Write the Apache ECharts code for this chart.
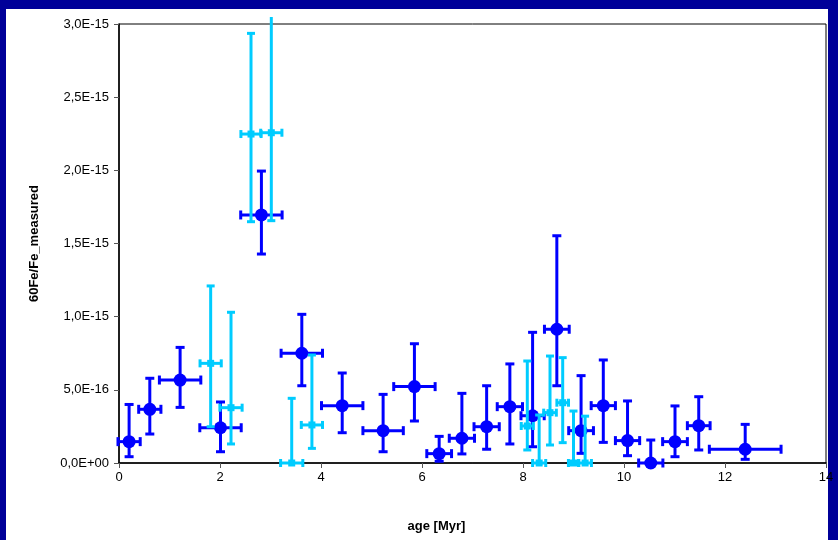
<!DOCTYPE html>
<html><head><meta charset="utf-8">
<script src="https://cdn.jsdelivr.net/npm/echarts@6/dist/echarts.min.js"></script>
<style>html,body{margin:0;padding:0;background:#000099;}#c{width:838px;height:540px;}</style>
</head><body><div id="c"></div>
<script>
// values in units of 1e-15
const UNIT = 1e-15;
const yTickLabels = ['0,0E+00','5,0E-16','1,0E-15','1,5E-15','2,0E-15','2,5E-15','3,0E-15'];
const xTickLabels = ['0','2','4','6','8','10','12','14'];

const blueAge    = [0.20, 0.61, 1.21, 2.01, 2.82, 3.62, 4.42, 5.23, 5.85, 6.34, 6.79, 7.28, 7.74, 8.19, 8.67, 9.15, 9.59, 10.07, 10.53, 11.01, 11.48, 12.40];
const blueAgeErr = [0.22, 0.22, 0.41, 0.41, 0.41, 0.41, 0.41, 0.40, 0.41, 0.245, 0.25, 0.25, 0.25, 0.23, 0.245, 0.245, 0.24, 0.24, 0.24, 0.245, 0.225, 0.71];
const blueVal    = [0.146, 0.367, 0.567, 0.241, 1.695, 0.750, 0.392, 0.221, 0.522, 0.064, 0.169, 0.248, 0.385, 0.323, 0.914, 0.221, 0.392, 0.153, 0.000, 0.146, 0.255, 0.094];
const blueHigh   = [0.400, 0.579, 0.790, 0.417, 1.995, 1.016, 0.615, 0.469, 0.815, 0.182, 0.476, 0.528, 0.677, 0.893, 1.553, 0.597, 0.704, 0.424, 0.157, 0.390, 0.453, 0.264];
const blueLow    = [0.043, 0.198, 0.380, 0.077, 1.428, 0.528, 0.207, 0.077, 0.287, 0.012, 0.062, 0.094, 0.130, 0.111, 0.528, 0.066, 0.141, 0.050, 0.000, 0.043, 0.089, 0.025];

const cyanAge    = [1.815, 2.218, 2.614, 3.016, 3.42, 3.82, 8.085, 8.32, 8.535, 8.786, 9.00, 9.23];
const cyanAgeErr = [0.21, 0.22, 0.20, 0.21, 0.22, 0.21, 0.12, 0.13, 0.125, 0.115, 0.10, 0.125];
const cyanVal    = [0.681, 0.378, 2.248, 2.257, 0.000, 0.260, 0.253, 0.000, 0.344, 0.412, 0.000, 0.000];
const cyanHigh   = [1.210, 1.030, 2.936, 3.300, 0.442, 0.738, 0.697, 0.328, 0.731, 0.720, 0.355, 0.320];
const cyanLow    = [0.248, 0.130, 1.649, 1.656, 0.000, 0.100, 0.089, 0.000, 0.123, 0.139, 0.000, 0.000];

function rows(age, ageErr, val, low, high) {
  return age.map((a, i) => [a, val[i], a - ageErr[i], a + ageErr[i], low[i], high[i]]);
}
const blueRows = rows(blueAge, blueAgeErr, blueVal, blueLow, blueHigh);
const cyanRows = rows(cyanAge, cyanAgeErr, cyanVal, cyanLow, cyanHigh);

function errRender(color, cap) {
  return function (params, api) {
    const c = api.coord([api.value(0), api.value(1)]);
    const xl = api.coord([api.value(2), api.value(1)])[0];
    const xr = api.coord([api.value(3), api.value(1)])[0];
    const yl = api.coord([api.value(0), api.value(4)])[1];
    let yh = api.coord([api.value(0), api.value(5)])[1];
    const top = params.coordSys.y - 7;
    let topCap = true;
    if (yh < top) { yh = top; topCap = false; }
    const st = { stroke: color, lineWidth: 3 };
    const ch = [];
    ch.push({ type: 'line', shape: { x1: xl, y1: c[1], x2: xr, y2: c[1] }, style: st });
    ch.push({ type: 'line', shape: { x1: xl, y1: c[1] - cap, x2: xl, y2: c[1] + cap }, style: st });
    ch.push({ type: 'line', shape: { x1: xr, y1: c[1] - cap, x2: xr, y2: c[1] + cap }, style: st });
    if (Math.abs(yh - c[1]) > 0.5) {
      ch.push({ type: 'line', shape: { x1: c[0], y1: c[1], x2: c[0], y2: yh }, style: st });
      if (topCap) ch.push({ type: 'line', shape: { x1: c[0] - cap, y1: yh, x2: c[0] + cap, y2: yh }, style: st });
    }
    if (Math.abs(yl - c[1]) > 0.5) {
      ch.push({ type: 'line', shape: { x1: c[0], y1: c[1], x2: c[0], y2: yl }, style: st });
      ch.push({ type: 'line', shape: { x1: c[0] - cap, y1: yl, x2: c[0] + cap, y2: yl }, style: st });
    }
    return { type: 'group', children: ch };
  };
}

const chart = echarts.init(document.getElementById('c'), null, { renderer: 'canvas' });
chart.setOption({
  backgroundColor: '#000099',
  animation: false,
  graphic: [{ type: 'rect', z: -10, shape: { x: 6, y: 9, width: 822, height: 531 }, style: { fill: '#ffffff' } }],
  grid: { left: 119, right: 12, top: 24, bottom: 77, show: true, borderColor: '#000', borderWidth: 1, backgroundColor: 'transparent' },
  xAxis: {
    type: 'value', min: 0, max: 14, interval: 2,
    name: 'age [Myr]', nameLocation: 'middle', nameGap: 57,
    nameTextStyle: { fontFamily: 'Liberation Sans', fontSize: 13, fontWeight: 'bold', color: '#000', padding: [0, 72, 0, 0] },
    axisLine: { show: true, lineStyle: { color: '#000', width: 1.5 } },
    axisTick: { show: true, length: 5, lineStyle: { color: '#555' } },
    axisLabel: { margin: 8, fontFamily: 'Liberation Sans', fontSize: 13, color: '#000',
      formatter: v => xTickLabels[Math.round(v / 2)] },
    splitLine: { show: false }
  },
  yAxis: {
    type: 'value', min: 0, max: 3, interval: 0.5,
    name: '60Fe/Fe_measured', nameLocation: 'middle', nameGap: 78,
    nameTextStyle: { fontFamily: 'Liberation Sans', fontSize: 13, fontWeight: 'bold', color: '#000' },
    axisLine: { show: true, lineStyle: { color: '#000', width: 1.5 } },
    axisTick: { show: true, length: 5, lineStyle: { color: '#555' } },
    axisLabel: { margin: 10, fontFamily: 'Liberation Sans', fontSize: 13, color: '#000',
      formatter: v => yTickLabels[Math.round(v / 0.5)] },
    splitLine: { show: false }
  },
  series: [
    { type: 'custom', renderItem: errRender('#0000ff', 4.5), data: blueRows, z: 2 },
    { type: 'scatter', data: blueRows.map(r => [r[0], r[1]]), symbol: 'circle', symbolSize: 13,
      itemStyle: { color: '#0000ff', opacity: 1 }, z: 3 },
    { type: 'custom', renderItem: errRender('#00ccff', 4), data: cyanRows, z: 4 },
    { type: 'scatter', data: cyanRows.map(r => [r[0], r[1]]), symbol: 'rect', symbolSize: 7,
      itemStyle: { color: '#00ccff', opacity: 1 }, z: 5 }
  ]
});
</script>
</body></html>
